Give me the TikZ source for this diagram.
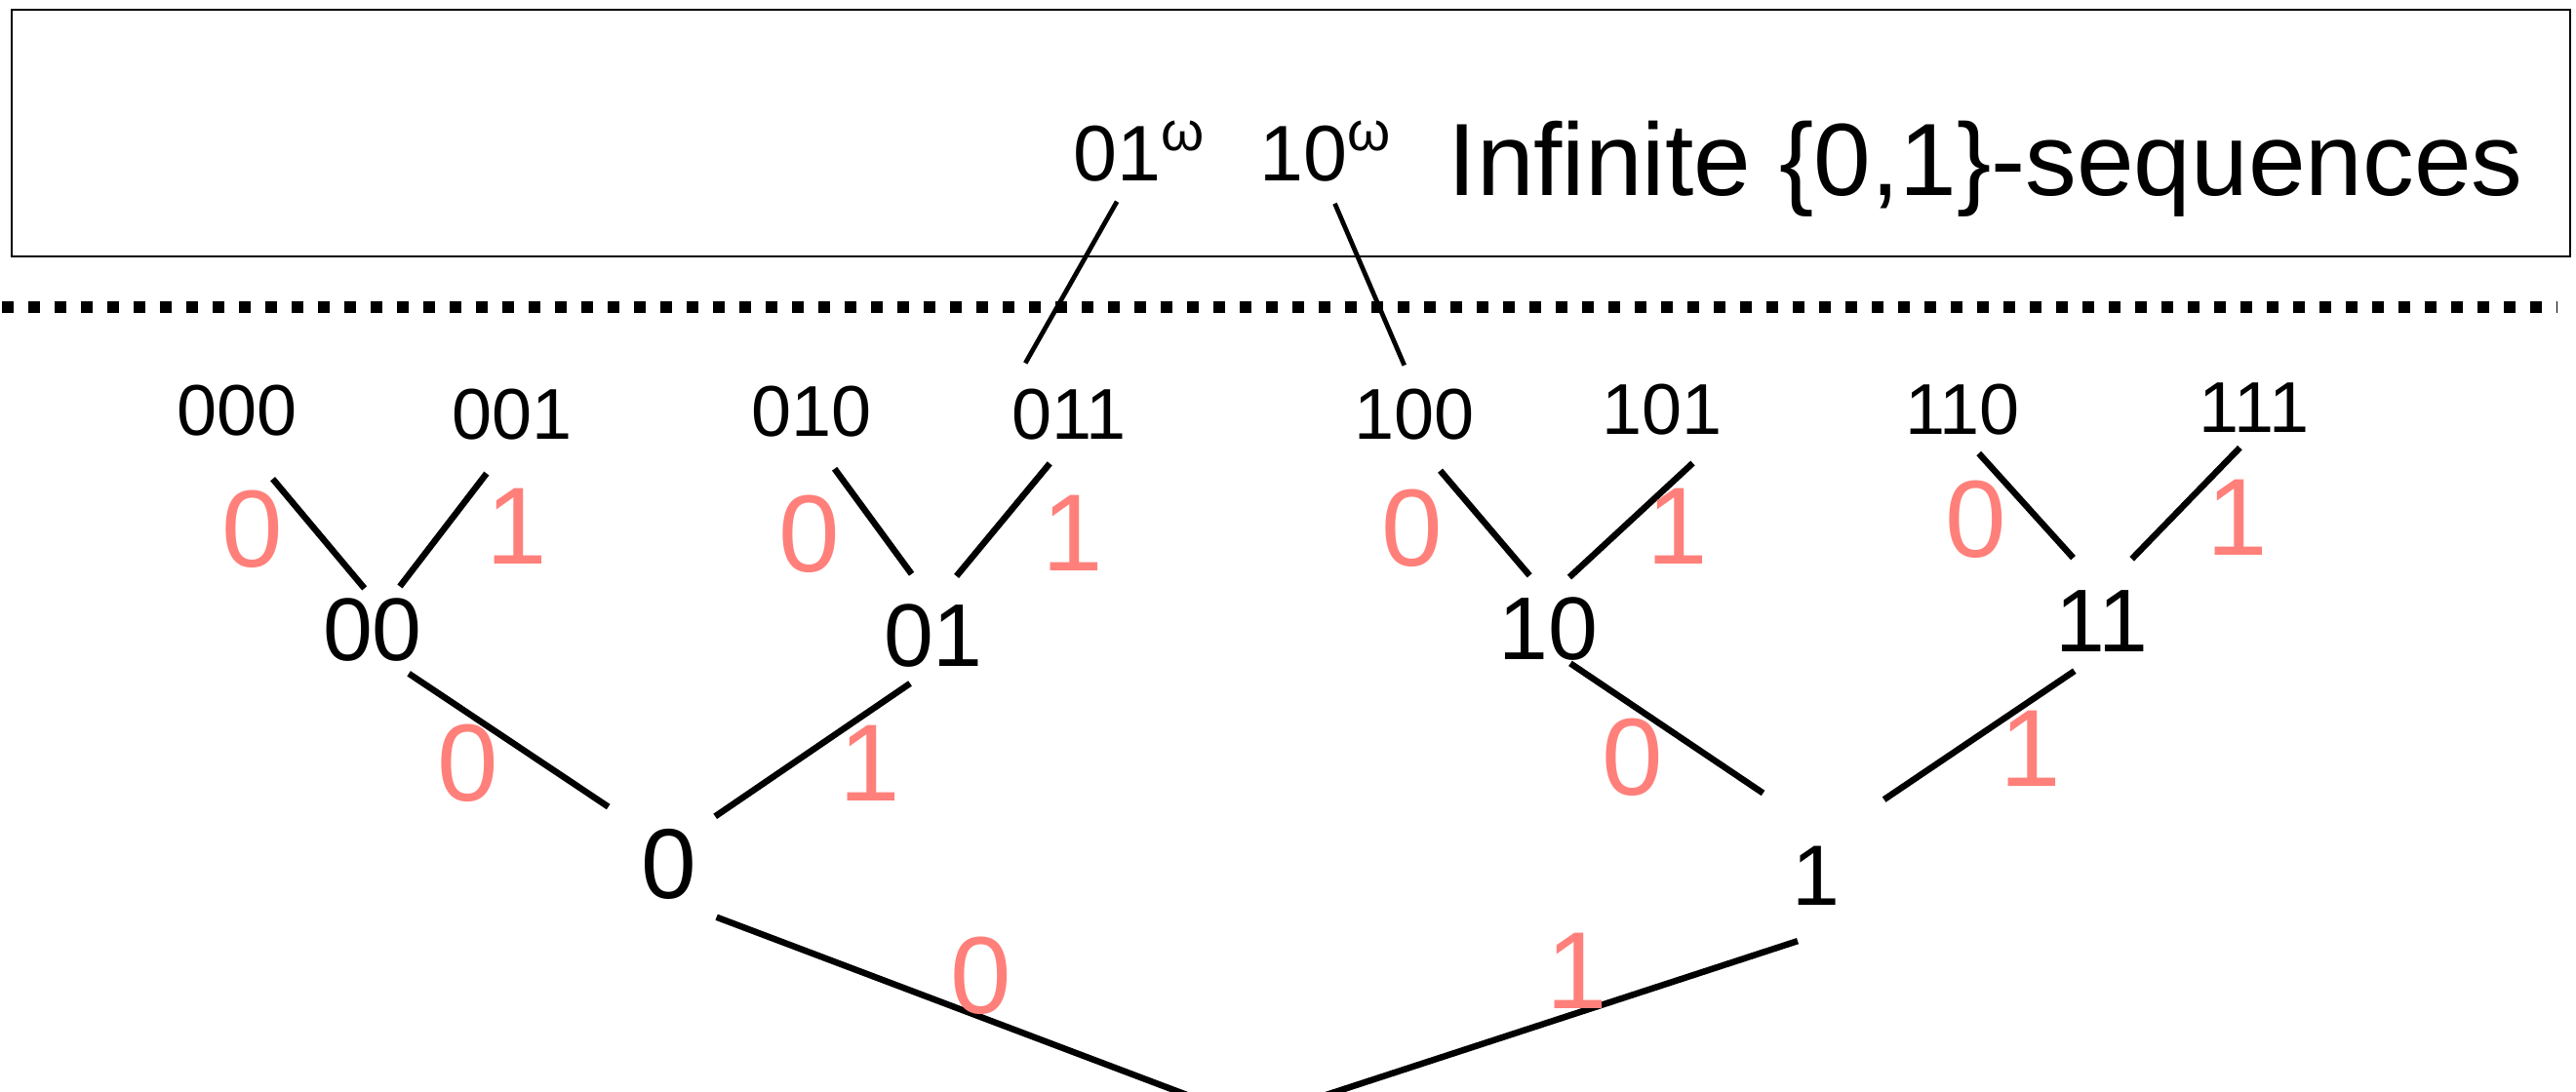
\documentclass[tikz,border=0pt]{standalone}
\usepackage{fontspec}
\setmainfont{Liberation Sans}
\usepackage{xcolor}
\usepackage{tikz}

\definecolor{bitred}{RGB}{255,128,122}

\begin{document}
\begin{tikzpicture}[
    leaf/.style = {
        font=\fontsize{21pt}{21pt}\selectfont,
        inner sep=0pt,
        text depth=0pt
    },
    inner/.style = {
        font=\fontsize{26pt}{26pt}\selectfont,
        inner sep=0pt,
        text depth=0pt
    },
    firstlvl/.style = {
        font=\fontsize{29pt}{29pt}\selectfont,
        inner sep=0pt,
        text depth=0pt
    },
    bit/.style = {
        font=\fontsize{32pt}{32pt}\selectfont,
        text=bitred,
        inner sep=0pt
    },
    seq/.style = {
        font=\fontsize{23pt}{23pt}\selectfont,
        inner sep=0pt,
        text depth=0pt,
        anchor=base
    },
    headline/.style = {
        font=\fontsize{30pt}{30pt}\selectfont,
        inner sep=0pt,
        anchor=base west
    },
    branch/.style = {line width=1.85pt},
    thinbranch/.style = {line width=1.35pt}
]

\useasboundingbox (0,0) rectangle (26.41,11.19);
\clip (0,0) rectangle (26.41,11.19);

% --- Infinite sequences ---
\draw[line width=0.6pt] (0.12,8.56) rectangle (26.35,11.09);
\node[seq] (w01) at (11.68,9.33) {01\textsuperscript{ω}};
\node[seq] (w10) at (13.59,9.33) {10\textsuperscript{ω}};
\node[headline] (infseq) at (14.84,9.19) {Infinite \{0,1\}-sequences};

\draw[line width=3.4pt, dash pattern=on 0.12cm off 0.15cm] (0.02,8.04) -- (26.22,8.04);

% --- Words of length 3 ---
\node[leaf] (l000) at (2.43,6.98) {000};
\node[leaf] (l001) at (5.25,6.94) {001};
\node[leaf] (l010) at (8.32,6.97) {010};
\node[leaf] (l011) at (10.96,6.94) {011};
\node[leaf] (l100) at (14.50,6.94) {100};
\node[leaf] (l101) at (17.04,6.99) {101};
\node[leaf] (l110) at (20.12,6.99) {110};
\node[leaf] (l111) at (23.11,7.01) {111};

% --- Words of length 2 ---
\node[inner] (n00) at (3.82,4.73) {00};
\node[inner] (n01) at (9.57,4.67) {01};
\node[inner] (n10) at (15.87,4.74) {10};
\node[inner] (n11) at (21.55,4.82) {11};

% --- Words of length 1 ---
\node[firstlvl] (n0) at (6.86,2.33) {0};
\node[firstlvl, font=\fontsize{25pt}{25pt}\selectfont] (n1) at (18.62,2.21) {1};
\coordinate (root) at (12.83,-0.29);

% --- Branches ---
\draw[branch, shorten <=0.57cm, shorten >=0.13cm] (l000.south) -- (n00.north);
\draw[branch, shorten <=0.43cm, shorten >=0.15cm] (l001.south) -- (n00.60);
\draw[branch, shorten <=0.40cm, shorten >=0.38cm] (l010.south) -- (n01.north);
\draw[branch, shorten <=0.31cm, shorten >=0.37cm] (l011.south) -- (n01.north);
\draw[branch, shorten <=0.41cm, shorten >=0.29cm] (l100.south) -- (n10.north);
\draw[branch, shorten <=0.42cm, shorten >=0.30cm] (l101.south east) -- (n10.north);
\draw[branch, shorten <=0.25cm, shorten >=0.44cm] (l110.south) -- (n11.north);
\draw[branch, shorten <=0.21cm, shorten >=0.44cm] (l111.south) -- (n11.north);

\draw[branch, shorten <=0.22cm, shorten >=0.40cm] (n00.-60) -- (n0.north west);
\draw[branch, shorten <=0.29cm, shorten >=0.22cm] (n01.south) -- (n0.north east);
\draw[branch, shorten <=0.05cm, shorten >=0.96cm] (n10.-60) -- (n1.north east);
\draw[branch, shorten <=0.34cm, shorten >=0.84cm] (n11.south) -- (n1.north);

\draw[branch, shorten <=0.52cm] (n0.south) -- (root);
\draw[branch, shorten <=0.20cm] ([yshift=-0.3cm]n1.south) -- (root);

\draw[thinbranch, shorten <=0.23cm, shorten >=0.30cm] (w01.-110) -- (l011.north west);
\draw[thinbranch, shorten <=0.24cm, shorten >=0.26cm] (w10.south) -- (l100.north);

% --- Bits on the branches ---
\node[bit] (e000) at (2.59,5.76) {0};
\node[bit] (e001) at (5.30,5.79) {1};
\node[bit] (e010) at (8.30,5.71) {0};
\node[bit] (e011) at (11.00,5.72) {1};
\node[bit] (e100) at (14.48,5.77) {0};
\node[bit] (e101) at (17.20,5.79) {1};
\node[bit] (e110) at (20.26,5.86) {0};
\node[bit] (e111) at (22.94,5.88) {1};

\node[bit] (e00) at (4.80,3.36) {0};
\node[bit] (e01) at (8.92,3.36) {1};
\node[bit] (e10) at (16.74,3.42) {0};
\node[bit] (e11) at (20.82,3.51) {1};

\node[bit] (e0) at (10.06,1.18) {0};
\node[bit] (e1) at (16.17,1.23) {1};

\end{tikzpicture}
\end{document}
